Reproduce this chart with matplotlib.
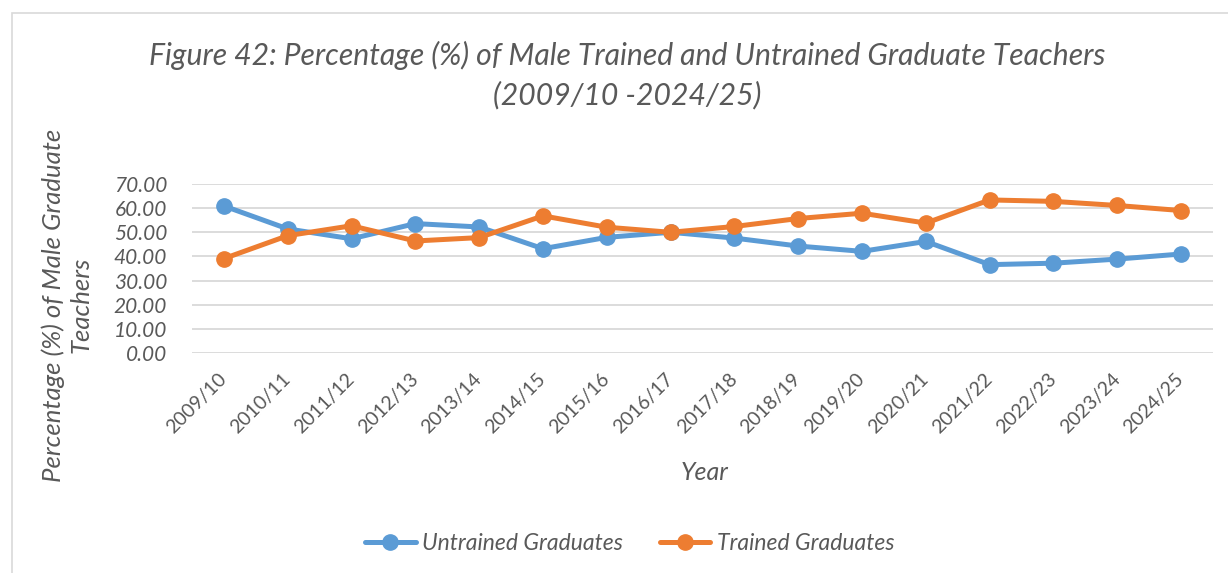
import matplotlib
matplotlib.use("Agg")
import matplotlib.pyplot as plt
from matplotlib.patches import Rectangle

# school years shown on the category axis
years = ["2009/10", "2010/11", "2011/12", "2012/13", "2013/14", "2014/15",
         "2015/16", "2016/17", "2017/18", "2018/19", "2019/20", "2020/21",
         "2021/22", "2022/23", "2023/24", "2024/25"]

# percentage of male graduate teachers
untrained = [60.9, 51.4, 47.3, 53.6, 52.2, 43.2, 47.9, 50.0,
             47.6, 44.3, 42.1, 46.2, 36.6, 37.2, 38.9, 41.0]
trained = [39.1, 48.6, 52.7, 46.4, 47.8, 56.8, 52.1, 50.0,
           52.4, 55.7, 57.9, 53.8, 63.4, 62.8, 61.1, 59.0]

BLUE = "#5B9BD5"
ORANGE = "#ED7D31"
GREY_TXT = "#595959"
FONT = ["Lato", "DejaVu Sans"]

plt.rcParams["font.family"] = FONT

W, H = 1228, 573
fig = plt.figure(figsize=(W / 100, H / 100), dpi=100)

# chart area frame
fig.patches.append(Rectangle((12 / W, -0.01), 1.05, (H - 13) / H + 0.01,
                             transform=fig.transFigure, fill=False,
                             edgecolor="#D9D9D9", linewidth=1.2))

ax = fig.add_axes([192 / W, 1 - 353 / H, (1213 - 192) / W, (353 - 184) / H])

x = list(range(len(years)))
ax.plot(x, untrained, color=BLUE, lw=3.6, marker="o", ms=11,
        label="Untrained Graduates", solid_capstyle="round")
ax.plot(x, trained, color=ORANGE, lw=3.6, marker="o", ms=11,
        label="Trained Graduates", solid_capstyle="round")

ax.set_xlim(-0.5, len(years) - 0.5)
ax.set_ylim(0, 70)
ax.set_yticks(range(0, 71, 10))
ax.set_yticklabels([f"{v:.2f}" for v in range(0, 71, 10)],
                   fontsize=15, style="italic", color=GREY_TXT)
ax.set_xticks(x)
ax.set_xticklabels(years, rotation=45, ha="right", va="center",
                   rotation_mode="anchor", fontsize=14, color=GREY_TXT)
ax.tick_params(axis="x", length=0, pad=17)
ax.tick_params(axis="y", length=0, pad=18)

ax.grid(axis="y", color="#D9D9D9", lw=1.3)
ax.set_axisbelow(True)
for s in ax.spines.values():
    s.set_visible(False)

title_kw = dict(ha="center", va="center", fontsize=21.7, style="italic",
                color=GREY_TXT)
fig.text(627 / W, 1 - 55 / H,
         "Figure 42: Percentage (%) of Male Trained and Untrained Graduate Teachers",
         **title_kw)
fig.text(627 / W, 1 - 95 / H, "(2009/10 -2024/25)", **title_kw)

fig.text(67 / W, 1 - 305 / H, "Percentage (%) of Male Graduate\nTeachers",
         rotation=90, ha="center", va="center", fontsize=18.5,
         style="italic", color=GREY_TXT, linespacing=1.2)
fig.text(705 / W, 1 - 472 / H, "Year", ha="center", va="center",
         fontsize=18, style="italic", color=GREY_TXT)

fig.legend(loc="center", bbox_to_anchor=(630 / W, 1 - 544 / H), ncol=2,
           frameon=False, handlelength=2.2, columnspacing=1.6,
           prop={"size": 16.5, "style": "italic", "family": FONT},
           labelcolor=GREY_TXT, handletextpad=0.3)

fig.savefig("out.png", dpi=100)
